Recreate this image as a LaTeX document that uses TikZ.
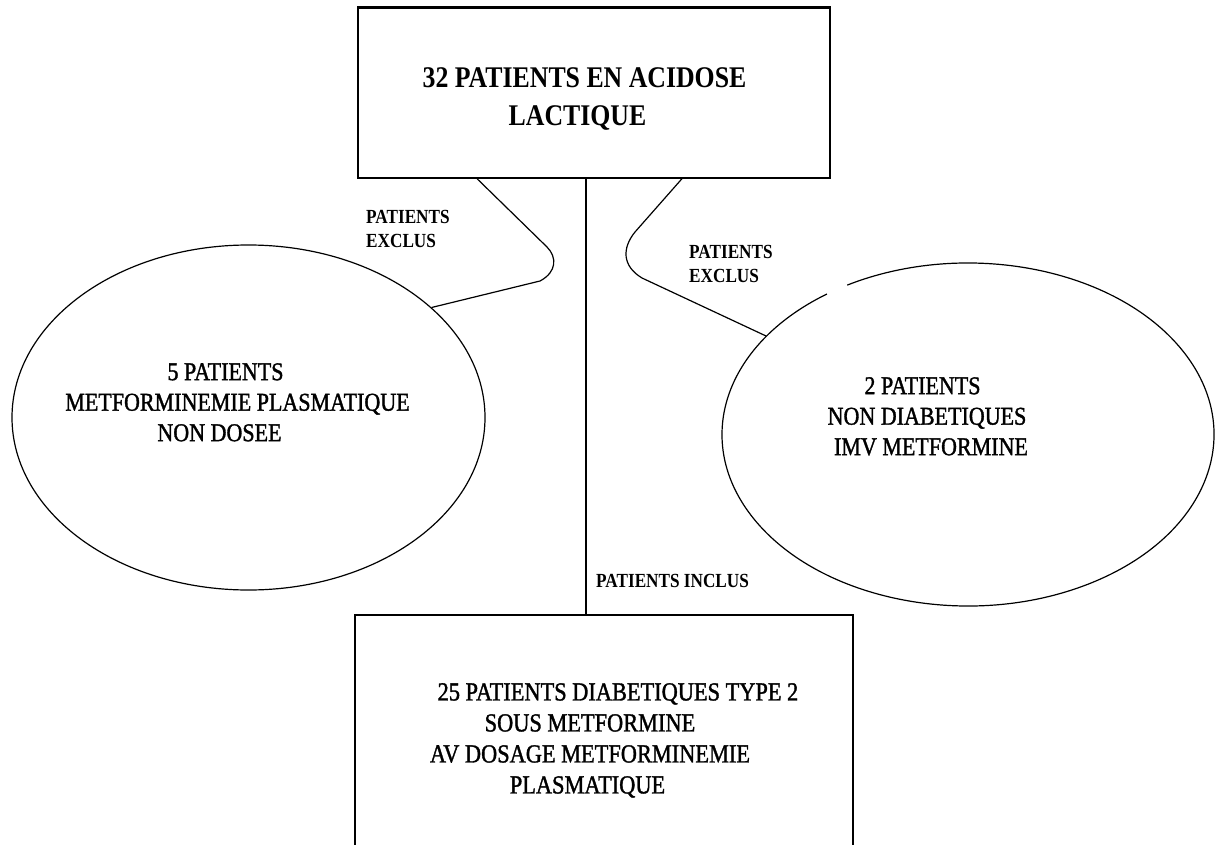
\documentclass[tikz,border=0pt]{standalone}
\usepackage{fontspec}
\usetikzlibrary{shapes.geometric}
\newfontfamily\diagfont[FakeStretch=0.86]{Liberation Serif}
\newfontfamily\diagmedfont[FakeStretch=0.86,FakeBold=1.3]{Liberation Serif}
\tikzset{
  boxnode/.style={draw, line width=1.3pt, rectangle, inner sep=0pt},
  ellnode/.style={ellipse, inner sep=0pt, line width=1.2pt},
  bigtxt/.style={inner sep=0pt, align=center, font=\diagfont\bfseries\fontsize{30}{38}\selectfont},
  midtxt/.style={inner sep=0pt, align=center, font=\diagmedfont\fontsize{25.6}{30.5}\selectfont},
  bottxt/.style={inner sep=0pt, align=center, font=\diagmedfont\fontsize{26}{31}\selectfont},
  smalltxt/.style={inner sep=0pt, align=left, font=\diagfont\bfseries\fontsize{20}{24}\selectfont},
  conn/.style={line width=1.2pt}
}
\begin{document}
\begin{tikzpicture}[x=1pt,y=-1pt]
\useasboundingbox (0,0) rectangle (1215,845);
\clip (0,0) rectangle (1215,845);
% boxes
\node[boxnode, minimum width=472pt, minimum height=170pt] (top) at (594,93) {};
\draw[line width=3pt] (top.north west) -- (top.north east);
\node[boxnode, minimum width=498pt, minimum height=245pt] (bot) at (604,737.5) {};
% ellipses
\node[ellnode, draw, minimum width=473pt, minimum height=345pt] (lell) at (248.5,417.5) {};
\node[ellnode, minimum width=492pt, minimum height=343pt] (rell) at (968,434.5) {};
\draw[line width=1.2pt] (rell.center) ++(-119.4:246 and 171.5) arc[start angle=-119.4, end angle=235, x radius=246, y radius=171.5];
% texts
\node[bigtxt, anchor=north] (toptxt) at (584.5,67) {32 PATIENTS EN ACIDOSE\\LACTIQUE\hspace*{14pt}};
\node[midtxt, anchor=north] (ltxt) at (237.5,363) {5 PATIENTS\hspace*{24pt}\\METFORMINEMIE PLASMATIQUE\\NON DOSEE\hspace*{36pt}};
\node[midtxt, anchor=north] (rtxt) at (927,377) {2 PATIENTS\hspace*{9pt}\\NON DIABETIQUES\\\hspace*{8pt}IMV METFORMINE};
\node[bottxt, anchor=north] (btxt) at (590,683) {\hspace*{56pt}25 PATIENTS DIABETIQUES TYPE 2\\SOUS METFORMINE\\AV DOSAGE METFORMINEMIE\\PLASMATIQUE\hspace*{5pt}};
\node[smalltxt, anchor=north west] (lexcl) at (366,210) {PATIENTS\\EXCLUS};
\node[smalltxt, anchor=north west] (rexcl) at (689,245) {PATIENTS\\EXCLUS};
\node[smalltxt, anchor=north west] (incl) at (596,574) {PATIENTS INCLUS};
% connectors
\coordinate (vx) at (586,0);
\draw[conn] (top.south -| vx) -- (bot.north -| vx);
\draw[conn] ([xshift=-117pt]top.south) -- (547,247) .. controls (557,257) and (557,272) .. (540,281) -- (lell.31);
\draw[conn] ([xshift=88pt]top.south) -- (635,232) .. controls (622,248) and (622,266) .. (642,278) -- (rell.154);
\end{tikzpicture}
\end{document}
